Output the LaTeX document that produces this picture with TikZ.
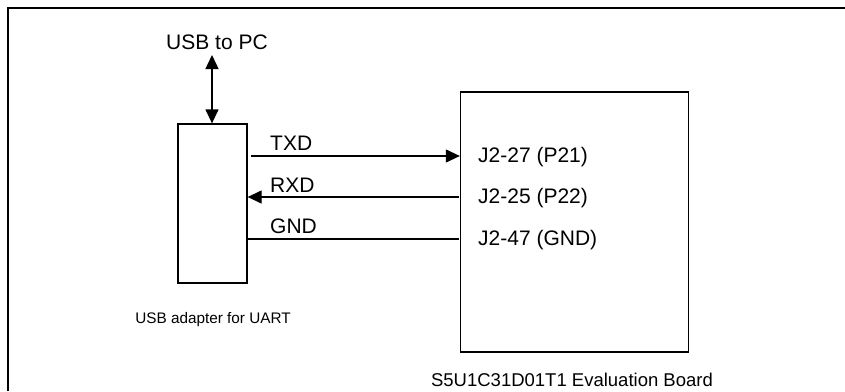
\documentclass[tikz,border=0pt]{standalone}
\usepackage{fontspec}
\setmainfont{Liberation Sans}
\usetikzlibrary{arrows.meta}
\begin{document}
\begin{tikzpicture}[x=1pt,y=-1pt,
  lbl/.style={font=\fontsize{21}{23}\selectfont, inner sep=0pt},
  small/.style={font=\fontsize{15.3}{17}\selectfont, inner sep=0pt},
  big/.style={font=\fontsize{18.5}{20}\selectfont, inner sep=0pt},
  box/.style={draw, line width=1.3pt},
  wire/.style={line width=1.3pt},
  tip/.style={-{Triangle[length=14pt,width=13pt]}}]
\useasboundingbox (0,0) rectangle (845,391);
\draw[line width=1.3pt] (8,391) -- (8,8) -- (845,8);
\node[box, minimum width=69pt, minimum height=159pt, inner sep=0pt] (ad) at (212.5,203.5) {};
\node[box, minimum width=228pt, minimum height=260pt, inner sep=0pt] (bd) at (574.5,222) {};
\node[lbl, anchor=base] (usb) at (217,49) {USB to PC};
\coordinate (ut) at (212,55);
\draw[wire, {Triangle[length=14pt,width=13pt]}-{Triangle[length=14pt,width=13pt]}] (ut) -- (ad.north -| ut);
\coordinate (tx) at (251,156);
\draw[wire, tip] (tx) -- (bd.west |- tx);
\coordinate (rx) at (459,197);
\draw[wire, tip] (rx) -- (ad.east |- rx);
\coordinate (gn) at (459,239);
\draw[wire] (gn) -- (ad.east |- gn);
\node[lbl, anchor=base west] (txd) at (270,150) {TXD};
\node[lbl, anchor=base west] (rxd) at (270,192) {RXD};
\node[lbl, anchor=base west] (gnd) at (270,233) {GND};
\node[lbl, anchor=west] (j1) at (478,157) {J2-27 (P21)};
\node[lbl, anchor=west] (j2) at (478,198) {J2-25 (P22)};
\node[lbl, anchor=west] (j3) at (478,240) {J2-47 (GND)};
\node[small] (adl) at (213,320) {USB adapter for UART};
\node[big] (bdl) at (572,380) {S5U1C31D01T1 Evaluation Board};
\end{tikzpicture}
\end{document}
